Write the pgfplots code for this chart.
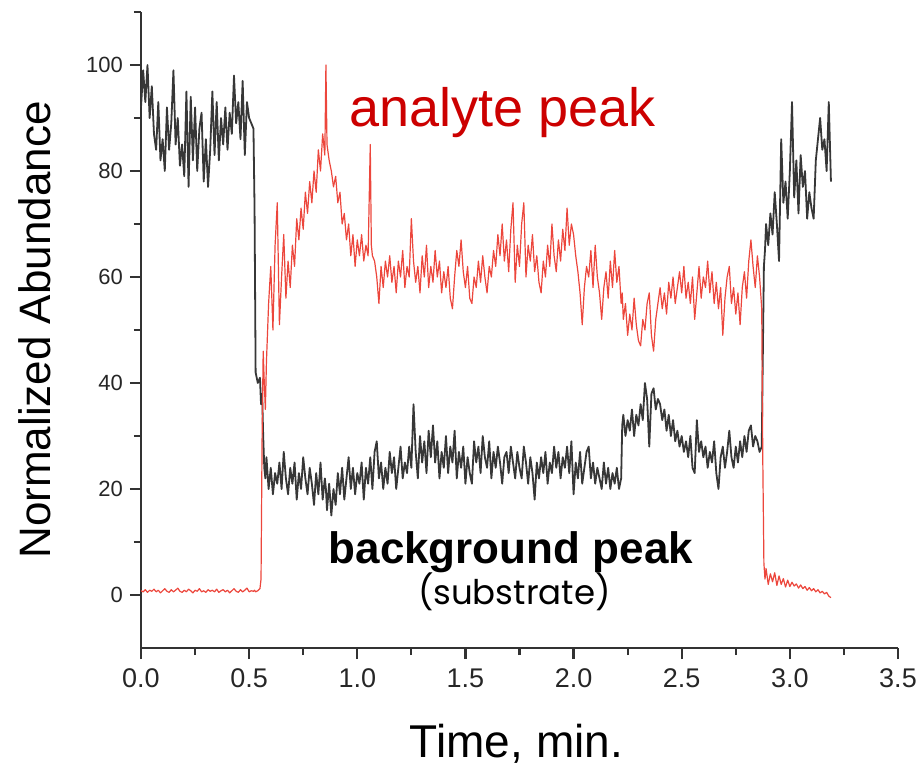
\documentclass[border=0pt]{standalone}
\usepackage{pgfplots}
\pgfplotsset{compat=1.18}
\usepackage{pgfplotstable}
\usepackage{fontspec}
\setmainfont{Liberation Sans}
\newfontfamily\poppins{Poppins}
\definecolor{redline}{RGB}{236,70,60}
\definecolor{redtext}{RGB}{204,0,0}
\definecolor{darkline}{RGB}{55,55,55}
\definecolor{axisgray}{RGB}{50,50,50}

\pgfplotstableread{
t bg an
0.00 92 0.8
0.01 99 0.6
0.02 93 1.0
0.03 100 0.5
0.04 90 0.9
0.05 96 0.7
0.06 87 1.1
0.07 84 0.6
0.08 93 0.9
0.09 82 0.4
0.10 86 0.8
0.11 80 1.2
0.12 92 0.7
0.13 84 0.5
0.14 89 1.0
0.15 99 0.6
0.16 85 0.9
0.17 90 1.3
0.18 81 0.7
0.19 85 0.5
0.20 79 0.9
0.21 95 0.6
0.22 77 1.1
0.23 94 0.8
0.24 82 0.4
0.25 92 0.9
0.26 80 0.7
0.27 88 1.2
0.28 91 0.6
0.29 78 0.8
0.30 86 0.5
0.31 77 1.0
0.32 84 0.7
0.33 95 0.9
0.34 83 0.6
0.35 93 1.1
0.36 82 0.5
0.37 90 0.8
0.38 85 1.0
0.39 92 0.6
0.40 84 0.9
0.41 91 0.4
0.42 87 0.8
0.43 98 1.2
0.44 89 0.7
0.45 93 0.5
0.46 86 1.0
0.47 97 0.6
0.48 83 0.9
0.49 93 1.3
0.50 90 0.6
0.51 89 0.8
0.52 88 0.7
0.525 73 0.9
0.53 42 0.6
0.54 40 0.8
0.55 41 1.2
0.555 36 3
0.56 38 30
0.565 30 46
0.57 24 40
0.575 22 35
0.58 26 44
0.59 20 55
0.60 24 62
0.61 19 50
0.62 23 66
0.63 21 74
0.64 25 51
0.65 20 60
0.66 27 68
0.67 22 56
0.68 19 63
0.69 24 58
0.70 21 66
0.71 25 62
0.72 18 71
0.73 23 67
0.74 20 73
0.75 26 69
0.76 22 76
0.77 19 72
0.78 24 78
0.79 21 74
0.80 17 80
0.81 23 76
0.82 19 84
0.83 25 80
0.84 18 87
0.85 22 83
0.855 20 100
0.86 16 85
0.87 21 82
0.88 15 80
0.89 20 77
0.90 17 79
0.91 23 74
0.92 19 76
0.93 24 70
0.94 18 72
0.95 22 67
0.96 26 70
0.97 20 64
0.98 24 68
0.99 19 62
1.00 23 67
1.01 21 64
1.02 25 68
1.03 18 63
1.04 24 66
1.05 21 64
1.06 26 85
1.065 23 66
1.07 20 64
1.08 27 63
1.09 29 60
1.10 22 55
1.11 25 62
1.12 20 58
1.13 24 63
1.14 21 60
1.15 27 64
1.16 23 59
1.17 26 62
1.18 20 57
1.19 24 63
1.20 28 60
1.21 22 65
1.22 25 58
1.23 23 62
1.24 28 60
1.25 24 71
1.26 36 63
1.27 27 59
1.28 22 62
1.29 30 57
1.30 25 64
1.31 29 60
1.32 23 66
1.33 31 58
1.34 26 62
1.35 32 59
1.36 25 65
1.37 29 60
1.38 22 63
1.39 27 57
1.40 24 61
1.41 30 58
1.42 23 62
1.43 28 56
1.44 25 54
1.45 31 60
1.46 22 65
1.47 27 62
1.48 24 67
1.49 28 61
1.50 21 58
1.51 26 62
1.52 23 56
1.53 21 55
1.54 29 60
1.55 25 58
1.56 28 63
1.57 23 59
1.58 30 64
1.59 26 60
1.60 24 57
1.61 29 62
1.62 22 60
1.63 27 65
1.64 24 62
1.65 28 68
1.66 25 64
1.67 21 70
1.68 26 63
1.69 27 67
1.70 23 61
1.71 28 69
1.72 25 74
1.73 22 59
1.74 27 66
1.75 24 62
1.76 22 70
1.77 28 74
1.78 25 60
1.79 21 66
1.80 26 63
1.81 23 68
1.82 18 61
1.83 25 64
1.84 22 59
1.85 26 57
1.86 23 63
1.87 27 60
1.88 21 66
1.89 25 62
1.90 23 70
1.91 28 64
1.92 24 61
1.93 27 67
1.94 22 63
1.95 26 69
1.96 24 65
1.97 28 73
1.98 23 66
1.99 29 70
2.00 19 68
2.01 25 64
2.02 22 61
2.03 27 57
2.04 21 51
2.05 24 58
2.06 27 62
2.07 28 60
2.08 22 65
2.09 25 58
2.10 21 66
2.11 24 60
2.12 22 57
2.13 20 52
2.14 25 58
2.15 21 61
2.16 24 56
2.17 20 63
2.18 23 58
2.19 21 65
2.20 24 59
2.21 20 62
2.22 22 55
2.225 32 57
2.23 34 52
2.24 30 55
2.25 33 49
2.26 31 53
2.27 35 50
2.28 30 56
2.29 34 51
2.30 32 48
2.31 36 47
2.32 33 52
2.33 40 50
2.34 37 55
2.35 28 57
2.36 38 49
2.37 39 46
2.38 35 52
2.39 37 55
2.40 36 58
2.41 33 54
2.42 35 57
2.43 31 53
2.44 34 59
2.45 30 56
2.46 33 60
2.47 29 55
2.48 31 58
2.49 28 61
2.50 30 57
2.51 27 62
2.52 29 56
2.53 26 59
2.54 30 55
2.55 24 60
2.56 23 52
2.57 33 57
2.58 27 62
2.59 29 56
2.60 26 60
2.61 28 58
2.62 24 63
2.63 27 57
2.64 25 61
2.65 29 55
2.66 23 59
2.67 20 54
2.68 26 58
2.69 28 49
2.70 24 56
2.71 27 60
2.72 31 62
2.73 26 55
2.74 24 58
2.75 28 53
2.76 25 57
2.77 29 51
2.78 26 58
2.79 30 61
2.80 27 56
2.81 31 63
2.82 32 67
2.83 28 62
2.84 30 58
2.85 29 64
2.86 27 60
2.87 28 54
2.875 45 25
2.88 62 6
2.885 65 3
2.89 70 5
2.90 66 2
2.91 72 4
2.92 68 2.5
2.93 76 4.2
2.94 70 1.8
2.95 63 3.6
2.96 86 2
2.97 74 3.1
2.98 78 1.5
2.99 71 2.8
3.00 80 1.6
3.01 93 2.4
3.02 75 1.7
3.03 82 2.1
3.04 72 1.3
3.05 83 1.9
3.06 77 1.2
3.07 80 1.6
3.08 71 0.9
3.09 76 1.4
3.10 73 0.8
3.11 71 1.2
3.12 82 0.6
3.13 86 1.0
3.14 90 0.4
3.15 84 0.7
3.16 86 0.2
3.17 80 0.5
3.18 93 -0.2
3.19 78 -0.5
}\datatable

\begin{document}
\begin{tikzpicture}
\path[use as bounding box] (-70.5pt,-59pt) rectangle (390pt,324pt);
\begin{axis}[
  at={(0,0)}, anchor=south west,
  scale only axis,
  width=378.5pt, height=318pt,
  xmin=0, xmax=3.5, ymin=-10, ymax=110,
  axis x line=bottom, axis y line=left,
  axis line style={-, line width=1.2pt, color=axisgray},
  xtick={0,0.5,...,3.5},
  minor xtick={0.25,0.75,...,3.25},
  ytick={0,20,...,100},
  minor ytick={10,30,...,110},
  tick align=outside,
  major tick length=5.5pt, minor tick length=3.5pt,
  every tick/.style={line width=1.1pt, color=axisgray},
  /pgf/number format/assume math mode=true,
  xticklabel style={font=\fontsize{13.5}{16}\selectfont, text=black!85, yshift=-1.5pt,
    /pgf/number format/.cd, fixed, fixed zerofill, precision=1},
  yticklabel style={font=\fontsize{11}{13}\selectfont, text=black!85},
  xlabel={Time, min.},
  ylabel={Normalized Abundance},
  xlabel style={font=\fontsize{23}{26}\selectfont, at={(axis description cs:0.496,0)}, anchor=base, yshift=-54.5pt},
  ylabel style={font=\fontsize{22}{26}\selectfont, at={(axis description cs:-0.14,0.5)}, anchor=center},
  clip=false,
]
\addplot[darkline, line width=0.9pt, line join=round] table[x=t, y=bg] {\datatable};
\addplot[redline, line width=0.6pt, line join=round] table[x=t, y=an] {\datatable};
\node[anchor=base, text=redtext, font=\fontsize{27}{30}\selectfont] at (axis cs:1.673,88.4) {analyte peak};
\node[anchor=base, font=\bfseries\fontsize{22}{26}\selectfont] at (axis cs:1.71,5.9) {background peak};
\node[anchor=base, font=\poppins\fontsize{17}{20}\selectfont] at (axis cs:1.726,-1.8) {(substrate)};
\end{axis}
\end{tikzpicture}
\end{document}
